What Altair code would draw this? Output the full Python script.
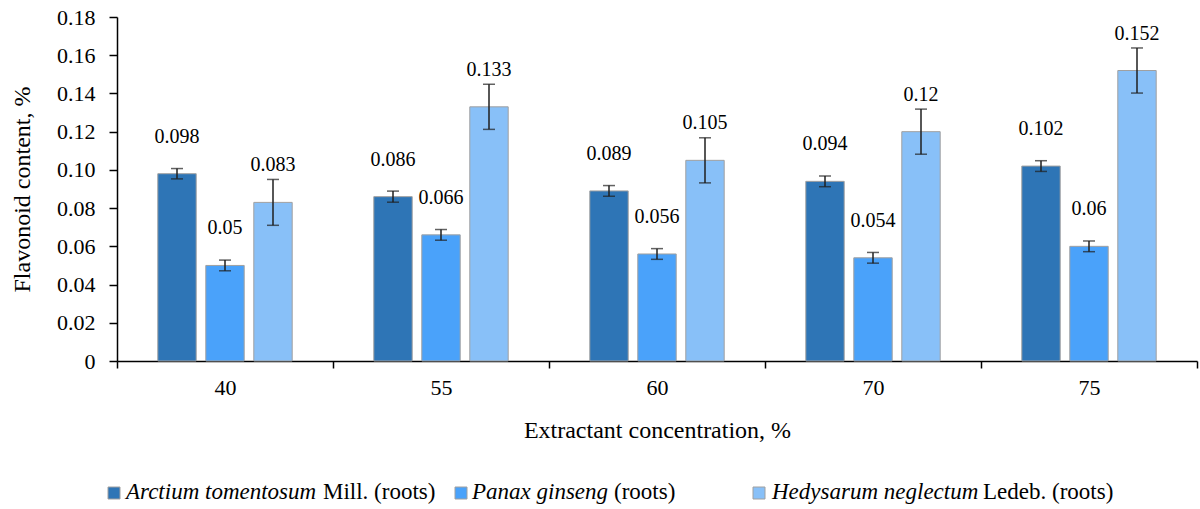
import altair as alt
import pandas as pd

# ---------------- data ----------------
concentrations = ["40", "55", "60", "70", "75"]
series = [
    "Arctium tomentosum Mill. (roots)",
    "Panax ginseng (roots)",
    "Hedysarum neglectum Ledeb. (roots)",
]
series_italic = ["Arctium tomentosum", "Panax ginseng", "Hedysarum neglectum"]
series_suffix = ["Mill. (roots)", "(roots)", "Ledeb. (roots)"]

arctium = [0.098, 0.086, 0.089, 0.094, 0.102]
panax = [0.050, 0.066, 0.056, 0.054, 0.060]
hedysarum = [0.083, 0.133, 0.105, 0.120, 0.152]

arctium_err = [0.0027, 0.0029, 0.0028, 0.0028, 0.0028]
panax_err = [0.0028, 0.0028, 0.0028, 0.0028, 0.0028]
hedysarum_err = [0.0120, 0.0118, 0.0118, 0.0118, 0.0118]

y_ticks = [0, 0.02, 0.04, 0.06, 0.08, 0.10, 0.12, 0.14, 0.16, 0.18]

# ---------------- styles ----------------
colors = ["#2E75B6", "#4AA2FA", "#88C0F8"]
FONT = "Liberation Serif"
BAR_STROKE = "#a0a0a0"
INK = "#1f1f1f"

rows = []
for s, vals, errs in zip(series, [arctium, panax, hedysarum], [arctium_err, panax_err, hedysarum_err]):
    for c, v, e in zip(concentrations, vals, errs):
        rows.append({"conc": c, "series": s, "value": v, "lo": v - e, "hi": v + e, "label": str(v)})
df = pd.DataFrame(rows)

color_scale = alt.Scale(domain=series, range=colors)

x_axis = alt.Axis(
    labelAngle=0,
    tickBand="extent",
    tickSize=7,
    tickWidth=1.5,
    tickColor="black",
    domainColor="black",
    domainWidth=1.5,
    labelPadding=9,
    labelFontSize=22,
    labelFont=FONT,
    labelColor="black",
    title="Extractant concentration, %",
    titleFont=FONT,
    titleFontSize=24,
    titleFontWeight="normal",
    titleColor="black",
    titleX=540,
    titleY=69,
    titleBaseline="middle",
    titleAlign="center",
)
y_axis = alt.Axis(
    values=y_ticks,
    labelExpr="datum.value == 0 ? '0' : format(datum.value, '.2f')",
    labelOverlap=False,
    labelFlush=False,
    labelBound=False,
    grid=False,
    tickSize=8,
    tickWidth=1.5,
    tickColor="black",
    domainColor="black",
    domainWidth=1.5,
    labelPadding=14,
    labelFontSize=22,
    labelFont=FONT,
    labelColor="black",
    title="Flavonoid content, %",
    titleFont=FONT,
    titleFontSize=24,
    titleFontWeight="normal",
    titleColor="black",
    titleX=-95,
    titleY=172,
    titleAngle=270,
    titleAlign="center",
    titleBaseline="middle",
)

x_scale = alt.Scale(paddingInner=0, paddingOuter=0)
y_scale = alt.Scale(domain=[0, 0.18], nice=False)


def xenc():
    return alt.X("conc:N", sort=concentrations, scale=x_scale, axis=x_axis)


def yenc(field):
    return alt.Y(field, scale=y_scale, axis=y_axis)


xoff_enc = alt.XOffset("series:N", sort=series, scale=alt.Scale(paddingInner=0.2, paddingOuter=0.85))

base = alt.Chart(df)

bars = base.mark_bar(stroke=BAR_STROKE, strokeWidth=1).encode(
    x=xenc(),
    xOffset=xoff_enc,
    y=yenc("value:Q"),
    color=alt.Color("series:N", scale=color_scale, legend=None),
)
err_rule = base.mark_rule(color=INK, strokeWidth=1.5).encode(
    x=xenc(), xOffset=xoff_enc, y=yenc("lo:Q"), y2="hi:Q"
)
cap_lo = base.mark_tick(color=INK, size=12, thickness=1.5).encode(
    x=xenc(), xOffset=xoff_enc, y=yenc("lo:Q")
)
cap_hi = base.mark_tick(color=INK, size=12, thickness=1.5).encode(
    x=xenc(), xOffset=xoff_enc, y=yenc("hi:Q")
)
labels = base.mark_text(dy=-31, fontSize=20, font=FONT, baseline="alphabetic", color="black").encode(
    x=xenc(), xOffset=xoff_enc, y=yenc("value:Q"), text="label:N"
)

# ---------------- custom legend (mixed italic / regular) ----------------
legend_square_x = [-3, 344, 642]
legend_italic_x = [9, 355, 655]
legend_suffix_x = [206, 497, 866]
legend_square_y = 476
legend_text_y = 482
LEGEND_FS = 23

legend_layers = []
for i in range(3):
    d = pd.DataFrame({"series": [series[i]], "italic": [series_italic[i]], "suffix": [series_suffix[i]]})
    sq = alt.Chart(d).mark_square(size=144, stroke=BAR_STROKE, strokeWidth=1, opacity=1).encode(
        x=alt.value(legend_square_x[i]),
        y=alt.value(legend_square_y),
        color=alt.Color("series:N", scale=color_scale, legend=None),
    )
    t1 = alt.Chart(d).mark_text(
        font=FONT, fontSize=LEGEND_FS, fontStyle="italic", align="left", baseline="alphabetic", color="black"
    ).encode(x=alt.value(legend_italic_x[i]), y=alt.value(legend_text_y), text="italic:N")
    t2 = alt.Chart(d).mark_text(
        font=FONT, fontSize=LEGEND_FS, align="left", baseline="alphabetic", color="black"
    ).encode(x=alt.value(legend_suffix_x[i]), y=alt.value(legend_text_y), text="suffix:N")
    legend_layers += [sq, t1, t2]

chart = alt.layer(bars, err_rule, cap_lo, cap_hi, labels, *legend_layers).properties(
    width=1080,
    height=344,
    autosize=alt.AutoSizeParams(type="none"),
    padding={"left": 117, "top": 17, "right": 3, "bottom": 148},
    background="white",
).configure_view(stroke=None)

chart.save("out.html", embed_options={"renderer": "svg", "actions": False})
